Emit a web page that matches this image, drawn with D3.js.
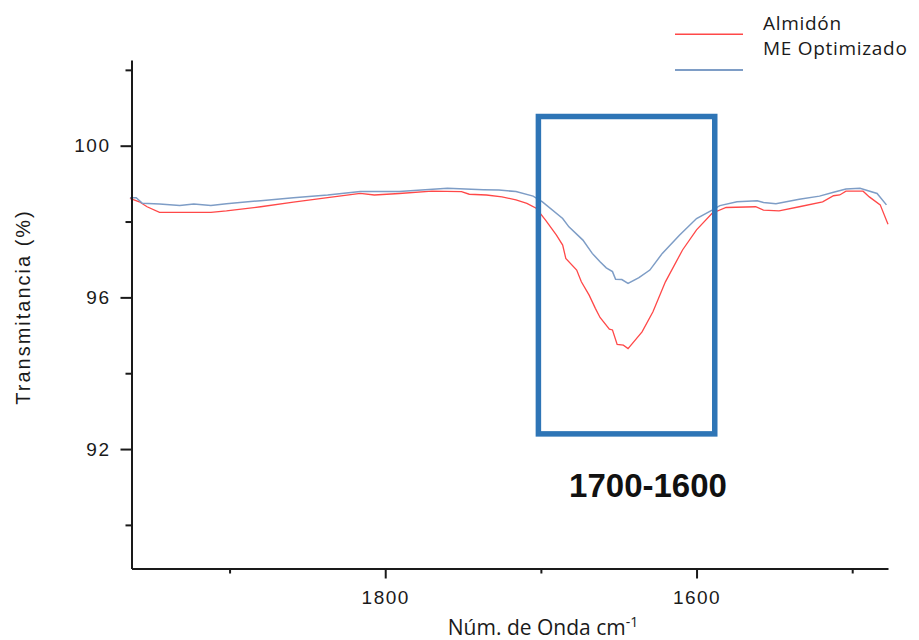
<!DOCTYPE html>
<html>
<head>
<meta charset="utf-8">
<script src="https://cdn.jsdelivr.net/npm/d3@7"></script>
<style>
  html, body { margin: 0; padding: 0; background: #fff; }
  svg { display: block; }
</style>
</head>
<body>
<svg id="chart" width="919" height="640"></svg>
<script>
// ---- Data ----
const seriesNames = ["Almidón", "ME Optimizado"];

const almidonWn = [1964,1958,1953,1945,1932,1912,1902,1880,1859,1837,1816,1807,1791,1770,1751,1746,1735,1725,1716,1709,1703,1697,1690,1686,1684,1677,1674,1669,1665,1662,1656,1654,1651,1647,1644,1635,1628,1620,1609,1600,1590,1581,1562,1557,1547,1534,1519,1512,1508,1504,1493,1489,1482,1477];
const almidonT  = [98.61,98.52,98.39,98.24,98.24,98.24,98.28,98.39,98.51,98.63,98.74,98.70,98.74,98.80,98.79,98.72,98.70,98.65,98.57,98.48,98.35,98.04,97.64,97.38,97.03,96.72,96.41,96.06,95.71,95.47,95.16,95.14,94.76,94.74,94.65,95.09,95.62,96.41,97.25,97.78,98.22,98.37,98.39,98.30,98.28,98.39,98.52,98.68,98.70,98.80,98.80,98.65,98.44,97.93];

const meWn = [1964,1960,1956,1945,1932,1923,1912,1902,1880,1859,1837,1816,1791,1760,1737,1727,1716,1705,1699,1686,1682,1673,1667,1662,1658,1654,1652,1648,1644,1637,1630,1622,1611,1600,1590,1585,1574,1561,1557,1549,1534,1521,1512,1504,1495,1484,1478];
const meT  = [98.63,98.63,98.48,98.46,98.42,98.46,98.42,98.47,98.55,98.63,98.70,98.79,98.79,98.88,98.84,98.83,98.79,98.67,98.52,98.08,97.86,97.51,97.16,96.94,96.78,96.68,96.48,96.47,96.37,96.52,96.72,97.16,97.64,98.08,98.30,98.42,98.52,98.55,98.50,98.47,98.59,98.67,98.77,98.86,98.88,98.74,98.44];

const xMajorTicks = [1800, 1600];
const xMinorTicks = [1900, 1700, 1500];
const yMajorTicks = [92, 96, 100];
const yMinorTicks = [90, 94, 98, 102];

const highlightWn = [1701.6, 1588.3];
const highlightT  = [100.77, 92.4];
const highlightLabel = "1700-1600";

// ---- Layout ----
const svg = d3.select("#chart");
const plotLeft = 131.5, plotRight = 888, plotTop = 60, plotBottom = 568.5;

const x = d3.scaleLinear().domain([1963, 1477]).range([plotLeft, plotRight]);
const y = d3.scaleLinear().domain([88.85, 102.26]).range([plotBottom, plotTop]);

const axisFont = "'Liberation Sans', Arial, sans-serif";
const calibriLike = "'Open Sans', 'Liberation Sans', sans-serif";

// Curves
const line = d3.line().x(d => x(d[0])).y(d => y(d[1]));
const almidon = almidonWn.map((w, i) => [w, almidonT[i]]);
const me = meWn.map((w, i) => [w, meT[i]]);

svg.append("path").datum(almidon)
  .attr("d", line).attr("fill", "none")
  .attr("stroke", "#ff4848").attr("stroke-width", 1.3);
svg.append("path").datum(me)
  .attr("d", line).attr("fill", "none")
  .attr("stroke", "#7e9dc6").attr("stroke-width", 1.5);

// X axis
const gx = svg.append("g").attr("transform", `translate(0,${plotBottom})`);
gx.call(d3.axisBottom(x).tickValues(xMajorTicks).tickSize(10).tickSizeOuter(0).tickFormat(d3.format("d")).tickPadding(8));
const gxm = svg.append("g").attr("transform", `translate(0,${plotBottom})`);
gxm.call(d3.axisBottom(x).tickValues(xMinorTicks).tickSize(5).tickSizeOuter(0).tickFormat(""));
gxm.select(".domain").remove();

// Y axis
const gy = svg.append("g").attr("transform", `translate(${plotLeft},0)`);
gy.call(d3.axisLeft(y).tickValues(yMajorTicks).tickSize(11).tickSizeOuter(0).tickFormat(d3.format("d")).tickPadding(10));
const gym = svg.append("g").attr("transform", `translate(${plotLeft},0)`);
gym.call(d3.axisLeft(y).tickValues(yMinorTicks).tickSize(6).tickSizeOuter(0).tickFormat(""));
gym.select(".domain").remove();

svg.selectAll(".domain, .tick line").attr("stroke", "#1a1a1a").attr("stroke-width", 2);
svg.selectAll(".tick text")
  .attr("font-family", axisFont).attr("font-size", 19)
  .attr("letter-spacing", "1.5px").attr("fill", "#1a1a1a");
gx.selectAll(".tick text").attr("dy", "0.9em");

// Axis titles
svg.append("text")
  .attr("transform", "translate(30,307) rotate(-90)")
  .attr("text-anchor", "middle")
  .attr("font-family", axisFont).attr("font-size", 20)
  .attr("letter-spacing", "2px").attr("fill", "#1a1a1a")
  .text("Transmitancia (%)");

const xt = svg.append("text")
  .attr("x", 543).attr("y", 635)
  .attr("text-anchor", "middle")
  .attr("font-family", calibriLike).attr("font-size", 21)
  .attr("fill", "#1a1a1a");
xt.append("tspan").text("Núm. de Onda cm");
xt.append("tspan").attr("dy", -8).attr("font-size", 14).text("-1");

// Highlight box
svg.append("rect")
  .attr("x", x(highlightWn[0])).attr("y", y(highlightT[0]))
  .attr("width", x(highlightWn[1]) - x(highlightWn[0]))
  .attr("height", y(highlightT[1]) - y(highlightT[0]))
  .attr("fill", "none").attr("stroke", "#2e75b6").attr("stroke-width", 5.5);

svg.append("text")
  .attr("x", 648).attr("y", 497)
  .attr("text-anchor", "middle")
  .attr("font-family", axisFont).attr("font-weight", "bold").attr("font-size", 33)
  .attr("fill", "#111")
  .text(highlightLabel);

// Legend
const legendColors = ["#ff4848", "#7e9dc6"];
const legendLineY = [34.3, 70];
const legendTextY = [29.5, 54.5];
seriesNames.forEach((name, i) => {
  svg.append("line")
    .attr("x1", 675).attr("x2", 743)
    .attr("y1", legendLineY[i]).attr("y2", legendLineY[i])
    .attr("stroke", legendColors[i]).attr("stroke-width", i === 0 ? 1.5 : 2);
  svg.append("text")
    .attr("x", 763).attr("y", legendTextY[i])
    .attr("font-family", calibriLike).attr("font-size", 19)
    .attr("letter-spacing", "0.7px")
    .attr("fill", "#1a1a1a")
    .text(name);
});
</script>
</body>
</html>
